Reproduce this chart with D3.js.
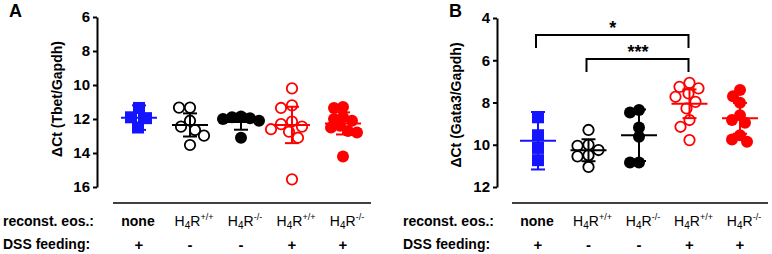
<!DOCTYPE html>
<html>
<head>
<meta charset="utf-8">
<script src="https://cdn.jsdelivr.net/npm/d3@7"></script>
<style>
  body { margin: 0; background: #fff; }
  svg { display: block; font-family: Arial, "Liberation Sans", sans-serif; }
</style>
</head>
<body>
<div id="vis"></div>
<script>
// groups (x categories), same for both panels
var groups = ["none", "wt", "ko", "wtDSS", "koDSS"];
var eosLabels = [
  {base: "none"},
  {base: "H", sub: "4", mid: "R", sup: "+/+"},
  {base: "H", sub: "4", mid: "R", sup: "-/-"},
  {base: "H", sub: "4", mid: "R", sup: "+/+"},
  {base: "H", sub: "4", mid: "R", sup: "-/-"}
];
var dssLabels = ["+", "-", "-", "+", "+"];
var groupColors = ["#1414ff", "#000", "#000", "#ff0000", "#ff0000"];
var groupShapes = ["square", "open", "filled", "open", "filled"];

// panel A: dCt Tbet/Gapdh
var tbetTicks = [6, 8, 10, 12, 14, 16];
var tbetValues = [
  [11.35, 11.9, 11.95, 12.5],
  [11.33, 11.33, 12.1, 12.45, 12.65, 12.98, 13.53],
  [11.85, 11.9, 11.95, 12.0, 12.1, 13.1],
  [10.2, 11.2, 11.35, 12.15, 12.3, 12.45, 12.6, 12.75, 13.1, 15.55],
  [11.3, 11.35, 11.9, 12.0, 12.1, 12.4, 12.5, 12.7, 12.8, 14.2]
];
var tbetMean = [11.92, 12.35, 12.18, 12.35, 12.26];
var tbetSd = [0.72, 0.68, 0.45, 1.07, 0.65];

// panel B: dCt Gata3/Gapdh
var gataTicks = [4, 6, 8, 10, 12];
var gataValues = [
  [8.7, 9.55, 10.15, 10.73],
  [9.3, 10.0, 10.05, 10.25, 10.5, 10.55, 11.05],
  [8.36, 8.47, 9.18, 9.62, 10.84, 10.84],
  [7.07, 7.26, 7.33, 7.57, 7.73, 7.97, 8.28, 8.83, 9.15, 9.78],
  [7.41, 7.7, 8.01, 8.6, 8.83, 8.96, 9.55, 9.75, 9.86]
];
var gataMean = [9.81, 10.26, 9.55, 8.06, 8.75];
var gataSd = [1.36, 0.52, 1.22, 0.68, 0.73];
// significance brackets: [from group, to group, label]
var gataSig = [["none", "wtDSS", "*"], ["wt", "wtDSS", "***"]];

var svg = d3.select("#vis").append("svg")
  .attr("width", 772)
  .attr("height", 254);

// simple beeswarm so dots don't sit on top of each other
function swarm(vals, y, gap) {
  var placed = [];
  var pts = vals.map(function (v) { return {v: v, y: y(v)}; })
    .sort(function (a, b) { return a.y - b.y; });
  pts.forEach(function (p) {
    for (var k = 0; k < 40; k++) {
      var cands = k === 0 ? [0] : [-k, k];
      var found = null;
      for (var c = 0; c < cands.length; c++) {
        var dx = cands[c];
        var ok = placed.every(function (q) { return Math.hypot(q.dx - dx, q.y - p.y) >= gap; });
        if (ok) { found = dx; break; }
      }
      if (found !== null) { p.dx = found; break; }
    }
    placed.push(p);
  });
  return placed;
}

function drawPanel(cfg) {
  var g = svg.append("g");

  var y = d3.scaleLinear().domain(cfg.domain).range(cfg.yRange);
  var x = d3.scalePoint().domain(groups).range(cfg.xRange);

  // y axis
  var yAxis = g.append("g")
    .attr("transform", "translate(" + cfg.axisX + ",0)")
    .call(d3.axisLeft(y).tickValues(cfg.ticks).tickSize(4).tickPadding(3).tickSizeOuter(0));
  yAxis.select(".domain").attr("stroke", "#000").attr("stroke-width", 2);
  yAxis.selectAll(".tick line").attr("stroke", "#000").attr("stroke-width", 2);
  yAxis.selectAll("text")
    .attr("fill", "#000")
    .style("font-size", "15px")
    .style("font-weight", "bold");

  g.append("text")
    .attr("transform", "translate(" + cfg.titleX + "," + cfg.titleY + ") rotate(-90)")
    .attr("text-anchor", "middle")
    .attr("dy", "0.35em")
    .style("font-size", "14px")
    .style("font-weight", "bold")
    .text(cfg.title);

  g.append("text")
    .attr("x", cfg.letterX)
    .attr("y", 17)
    .style("font-size", "18px")
    .style("font-weight", "bold")
    .text(cfg.letter);

  // base line above group labels
  g.append("line")
    .attr("x1", cfg.lineX[0])
    .attr("x2", cfg.lineX[1])
    .attr("y1", 203)
    .attr("y2", 203)
    .attr("stroke", "#000")
    .attr("stroke-width", 1.5);

  groups.forEach(function (key, i) {
    var cx = x(key);
    var col = groupColors[i];
    var shape = groupShapes[i];
    var gap = shape === "open" ? 10.5 : (shape === "square" ? 12 : 9);
    var pts = swarm(cfg.values[i], y, gap);

    if (shape === "square") {
      g.selectAll(".sq" + i)
        .data(pts)
        .enter()
        .append("rect")
        .attr("x", function (d) { return cx + d.dx - 6; })
        .attr("y", function (d) { return d.y - 6; })
        .attr("width", 12)
        .attr("height", 12)
        .attr("fill", col);
    } else {
      g.selectAll(".pt" + i)
        .data(pts)
        .enter()
        .append("circle")
        .attr("cx", function (d) { return cx + d.dx; })
        .attr("cy", function (d) { return d.y; })
        .attr("r", shape === "open" ? 5.2 : 6)
        .attr("fill", shape === "open" ? "none" : col)
        .attr("stroke", col)
        .attr("stroke-width", shape === "open" ? 1.8 : 0);
    }

    // mean and SD
    var m = cfg.mean[i], s = cfg.sd[i];
    var lines = [
      [cx - 18, y(m), cx + 18, y(m)],
      [cx, y(m - s), cx, y(m + s)],
      [cx - 7, y(m - s), cx + 7, y(m - s)],
      [cx - 7, y(m + s), cx + 7, y(m + s)]
    ];
    g.selectAll(".err" + i)
      .data(lines)
      .enter()
      .append("line")
      .attr("x1", function (d) { return d[0]; })
      .attr("y1", function (d) { return d[1]; })
      .attr("x2", function (d) { return d[2]; })
      .attr("y2", function (d) { return d[3]; })
      .attr("stroke", col)
      .attr("stroke-width", 2);

    // group label
    var lab = eosLabels[i];
    var t = g.append("text")
      .attr("x", cx + (lab.sub ? 4 : -1))
      .attr("y", 226)
      .attr("text-anchor", "middle")
      .style("font-size", "14px");
    if (!lab.sub) {
      t.style("font-weight", "bold").text(lab.base);
    } else {
      t.append("tspan").text(lab.base);
      t.append("tspan").attr("dy", 3).style("font-size", "10px").text(lab.sub);
      t.append("tspan").attr("dy", -3).text(lab.mid);
      t.append("tspan").attr("dy", -6).style("font-size", "9px").text(lab.sup);
    }

    g.append("text")
      .attr("x", cx)
      .attr("y", 250)
      .attr("text-anchor", "middle")
      .style("font-size", "15px")
      .style("font-weight", "bold")
      .text(dssLabels[i]);
  });

  g.append("text")
    .attr("x", cfg.rowX)
    .attr("y", 226)
    .style("font-size", "14px")
    .style("font-weight", "bold")
    .text("reconst. eos.:");
  g.append("text")
    .attr("x", cfg.rowX)
    .attr("y", 249)
    .style("font-size", "14px")
    .style("font-weight", "bold")
    .text("DSS feeding:");

  // significance brackets
  (cfg.sig || []).forEach(function (s, j) {
    var x1 = x(s[0]) - 2, x2 = x(s[1]) - 1;
    var by = 35 + j * 24;
    g.append("path")
      .attr("d", "M" + x1 + "," + (by + 13) + "V" + by + "H" + x2 + "V" + (by + 13))
      .attr("fill", "none")
      .attr("stroke", "#000")
      .attr("stroke-width", 2);
    g.append("text")
      .attr("x", (x(s[0]) + x(s[1])) / 2 - 1)
      .attr("y", by - 1)
      .attr("text-anchor", "middle")
      .style("font-size", "18px")
      .style("font-weight", "bold")
      .text(s[2]);
  });
}

drawPanel({
  letter: "A", letterX: 9,
  domain: [6, 16], yRange: [17, 187], ticks: tbetTicks,
  xRange: [139, 343], axisX: 97,
  title: "\u0394Ct (Tbet/Gapdh)", titleX: 57, titleY: 99,
  lineX: [113, 371], rowX: 3,
  values: tbetValues, mean: tbetMean, sd: tbetSd
});

drawPanel({
  letter: "B", letterX: 449,
  domain: [4, 12], yRange: [18, 187], ticks: gataTicks,
  xRange: [538, 740], axisX: 497,
  title: "\u0394Ct (Gata3/Gapdh)", titleX: 456, titleY: 105,
  lineX: [512, 768], rowX: 403,
  values: gataValues, mean: gataMean, sd: gataSd, sig: gataSig
});
</script>
</body>
</html>
